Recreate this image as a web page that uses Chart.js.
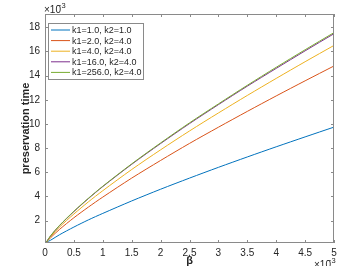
<!DOCTYPE html>
<html>
<head>
<meta charset="utf-8">
<script src="https://cdn.jsdelivr.net/npm/chart.js@4.4.1/dist/chart.umd.min.js"></script>
<style>
  html, body { margin: 0; padding: 0; background: #fff; }
  canvas { display: block; }
</style>
</head>
<body>
<canvas id="chart" width="359" height="266"></canvas>
<script>
// beta values (x 1e-3)
const betaValues = [0.02, 0.1, 0.25, 0.5, 0.75, 1, 1.5, 2, 2.5, 3, 3.5, 4, 4.5, 5];

// preservation time (x 1e-3)
const seriesK1_1_K2_1   = [0.2, 0.39, 0.83, 1.47, 2.06, 2.60, 3.63, 4.60, 5.52, 6.41, 7.27, 8.11, 8.93, 9.74];
const seriesK1_2_K2_4   = [0.2, 0.60, 1.27, 2.24, 3.12, 3.95, 5.52, 6.98, 8.39, 9.73, 11.04, 12.32, 13.57, 14.8];
const seriesK1_4_K2_4   = [0.2, 0.69, 1.46, 2.55, 3.55, 4.48, 6.23, 7.86, 9.42, 10.91, 12.36, 13.77, 15.15, 16.5];
const seriesK1_16_K2_4  = [0.2, 0.76, 1.58, 2.75, 3.82, 4.82, 6.66, 8.38, 10.03, 11.6, 13.13, 14.6, 16.05, 17.47];
const seriesK1_256_K2_4 = [0.2, 0.77, 1.60, 2.78, 3.85, 4.85, 6.70, 8.43, 10.09, 11.66, 13.20, 14.69, 16.14, 17.56];

const seriesLabels = ['k1=1.0, k2=1.0', 'k1=2.0, k2=4.0', 'k1=4.0, k2=4.0', 'k1=16.0, k2=4.0', 'k1=256.0, k2=4.0'];
const seriesColors = ['#0072BD', '#D95319', '#EDB120', '#7E2F8E', '#77AC30'];
const allSeries = [seriesK1_1_K2_1, seriesK1_2_K2_4, seriesK1_4_K2_4, seriesK1_16_K2_4, seriesK1_256_K2_4];

const xTicks = [0, 0.5, 1, 1.5, 2, 2.5, 3, 3.5, 4, 4.5, 5];
const yTicks = [2, 4, 6, 8, 10, 12, 14, 16, 18];

const FONT = '"Liberation Sans", Arial, Helvetica, sans-serif';
const AXIS = '#262626';
const BOX = '#8a8a8a';

// box, inward ticks, exponent labels and legend, MATLAB style
const matlabAxes = {
    id: 'matlabAxes',
    afterDatasetsDraw(chart) {
        const ctx = chart.ctx;
        const a = chart.chartArea;
        const xs = chart.scales.x, ys = chart.scales.y;
        ctx.save();
        ctx.strokeStyle = BOX;
        ctx.lineWidth = 1;
        ctx.strokeRect(a.left + 0.5, a.top + 0.5, a.right - a.left - 1, a.bottom - a.top - 1);
        ctx.beginPath();
        xTicks.forEach(v => {
            const px = Math.round(xs.getPixelForValue(v)) + 0.5;
            ctx.moveTo(px, a.bottom); ctx.lineTo(px, a.bottom - 3);
            ctx.moveTo(px, a.top); ctx.lineTo(px, a.top + 3);
        });
        yTicks.forEach(v => {
            const py = Math.round(ys.getPixelForValue(v)) + 0.5;
            ctx.moveTo(a.left, py); ctx.lineTo(a.left + 3, py);
            ctx.moveTo(a.right, py); ctx.lineTo(a.right - 3, py);
        });
        ctx.stroke();

        // x10^-3 labels
        ctx.fillStyle = AXIS;
        ctx.textBaseline = 'alphabetic';
        ctx.textAlign = 'left';
        ctx.font = '10px ' + FONT;
        ctx.fillText('\u00d710', 44, 13);
        ctx.font = '7.5px ' + FONT;
        ctx.fillText('\u22123', 57, 8);
        ctx.font = '10px ' + FONT;
        ctx.fillText('\u00d710', 314, 268);
        ctx.font = '7.5px ' + FONT;
        ctx.fillText('\u22123', 327, 263);

        // legend
        const lx = 48, ly = 23, lw = 95, lh = 56;
        ctx.fillStyle = '#fff';
        ctx.fillRect(lx, ly, lw, lh);
        ctx.strokeStyle = BOX;
        ctx.strokeRect(lx + 0.5, ly + 0.5, lw, lh);
        ctx.font = '9px ' + FONT;
        ctx.textBaseline = 'middle';
        chart.data.datasets.forEach((ds, i) => {
            const y = 30 + i * 10.6;
            ctx.strokeStyle = ds.borderColor;
            ctx.lineWidth = 1;
            ctx.beginPath();
            ctx.moveTo(51, y); ctx.lineTo(70, y);
            ctx.stroke();
            ctx.fillStyle = AXIS;
            ctx.fillText(ds.label, 72, y + 0.5);
        });
        ctx.restore();
    }
};

const datasets = allSeries.map((s, i) => ({
    label: seriesLabels[i],
    data: betaValues.map((b, j) => ({ x: b, y: s[j] })),
    borderColor: seriesColors[i],
    backgroundColor: seriesColors[i],
    borderWidth: 1,
    pointRadius: 0,
    fill: false,
    tension: 0.3,
    order: allSeries.length - i
}));

new Chart(document.getElementById('chart'), {
    type: 'line',
    data: { datasets },
    options: {
        responsive: false,
        animation: false,
        devicePixelRatio: 1,
        layout: { padding: { top: 14, right: 25, left: 0, bottom: 0 } },
        plugins: {
            legend: { display: false },
            tooltip: { enabled: false }
        },
        scales: {
            x: {
                type: 'linear',
                min: 0,
                max: 5,
                afterFit: s => { s.height = 23; },
                afterBuildTicks: s => { s.ticks = xTicks.map(v => ({ value: v })); },
                grid: { display: false, drawTicks: false },
                border: { display: false },
                ticks: {
                    padding: 4,
                    color: AXIS,
                    font: { family: FONT, size: 10 },
                    maxRotation: 0,
                    callback: v => String(v)
                },
                title: {
                    display: true,
                    text: '\u03b2',
                    color: AXIS,
                    font: { family: FONT, size: 11, weight: 'bold', lineHeight: 1 },
                    padding: { top: 0, bottom: 0 }
                }
            },
            y: {
                min: 0.15,
                max: 19.1,
                afterFit: s => { s.width = 45; },
                afterBuildTicks: s => { s.ticks = yTicks.map(v => ({ value: v })); },
                grid: { display: false, drawTicks: false },
                border: { display: false },
                ticks: {
                    padding: 5,
                    color: AXIS,
                    font: { family: FONT, size: 10 }
                },
                title: {
                    display: true,
                    text: 'preservation time',
                    color: AXIS,
                    font: { family: FONT, size: 11, weight: 'bold', lineHeight: 1.2 },
                    padding: { top: 19, bottom: 0 }
                }
            }
        }
    },
    plugins: [matlabAxes]
});
</script>
</body>
</html>
